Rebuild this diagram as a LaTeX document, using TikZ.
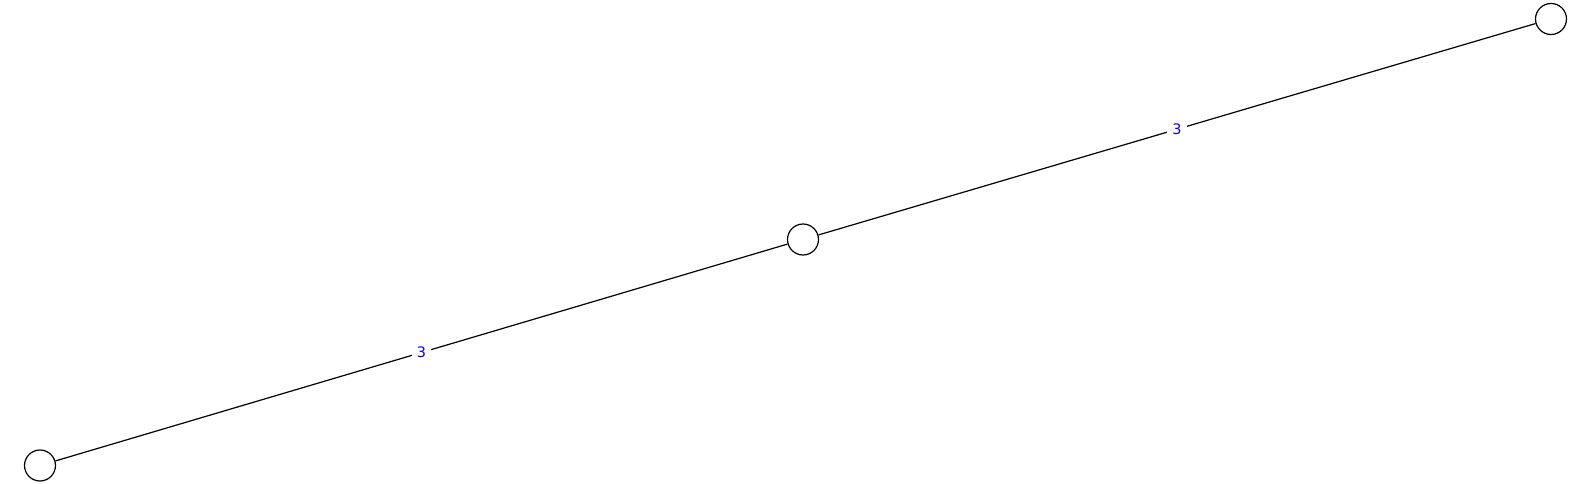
\documentclass[tikz,border=0pt]{standalone}
\usepackage{fontspec}
\setmainfont{DejaVu Sans}
\begin{document}
\begin{tikzpicture}[x=1bp,y=-1bp,
  vertex/.style={circle,draw=black,line width=1.2bp,minimum size=31bp,inner sep=0pt,fill=white},
  edge/.style={draw=black,line width=1.2bp},
  wlabel/.style={fill=white,text=blue,inner xsep=5bp,inner ysep=3bp,font=\fontsize{14.5}{16}\selectfont}]
\useasboundingbox (0,0) rectangle (1589,484);
\node[vertex] (a) at (40,465.5) {};
\node[vertex] (b) at (803,239.5) {};
\node[vertex] (c) at (1551,19) {};
\draw[edge] (a) -- node[wlabel] {3} (b);
\draw[edge] (b) -- node[wlabel] {3} (c);
\end{tikzpicture}
\end{document}
